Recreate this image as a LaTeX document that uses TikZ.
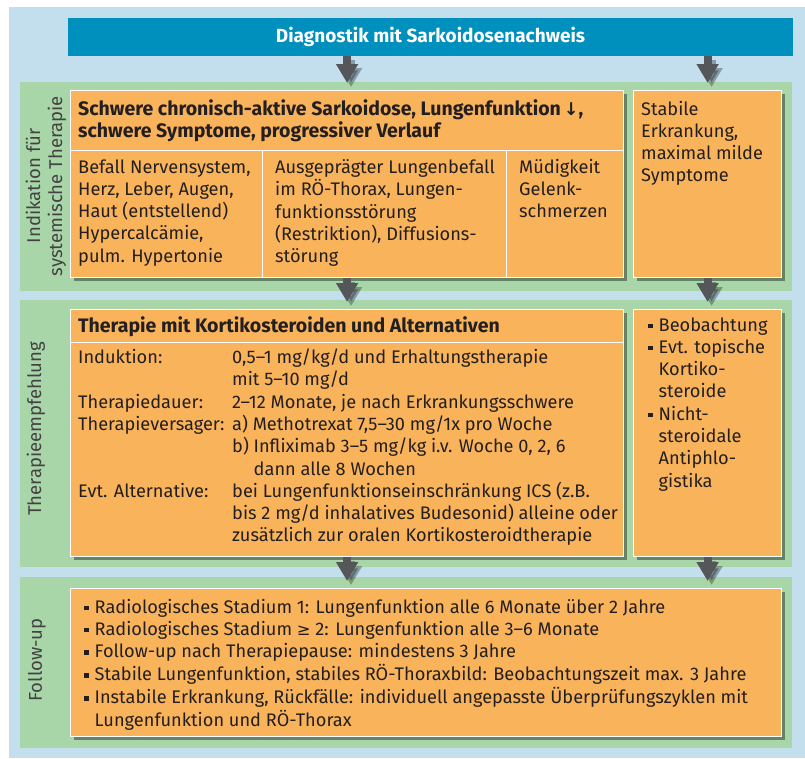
\documentclass[tikz,border=0pt]{standalone}
\usepackage{fontspec}
\setmainfont{Fira Sans}
\newfontfamily\symfont[Scale=0.9]{DejaVu Sans}
\usetikzlibrary{positioning,arrows.meta,shadows}

\definecolor{bgblue}{HTML}{C3DFEE}
\definecolor{bandgreen}{HTML}{A8D6A9}
\definecolor{boxorange}{HTML}{F9B35B}
\definecolor{titleblue}{HTML}{0090BE}
\definecolor{arrgray}{HTML}{555659}
\definecolor{txtdark}{HTML}{231F20}

\newcommand{\txt}{\fontsize{18.2}{22.3}\selectfont}
\newcommand{\txtbf}{\fontsize{19.5}{22.3}\selectfont\bfseries}
\newcommand{\sq}{\raisebox{3pt}{\rule{4.5pt}{4.5pt}}}
\newcommand{\lines}[1]{\begin{tabular}[t]{@{}l@{}}#1\end{tabular}}
\newcommand{\items}[1]{\begin{tabular}[t]{@{}l@{\hspace{6pt}}l@{}}#1\end{tabular}}

\tikzset{
  box/.style={draw=white, line width=1.2pt, fill=boxorange, anchor=north west,
    inner sep=0pt, drop shadow={shadow xshift=3pt, shadow yshift=-3pt,
    fill=black!60!bandgreen, opacity=.65}},
  cell/.style={draw=white, line width=1.2pt, fill=boxorange, anchor=north west, inner sep=0pt},
  txt/.style={anchor=base west, inner sep=0pt, text=txtdark, font=\txt},
  side/.style={rotate=90, align=center, inner sep=0pt, text=txtdark!85,
    font=\fontsize{18.5}{22}\selectfont},
  arr/.style={line width=8pt, draw=arrgray, shorten >=7pt,
    -{Triangle[width=21pt,length=19pt]}},
}

\begin{document}
\begin{tikzpicture}[x=1pt,y=-1pt]
\useasboundingbox (0,0) rectangle (805,758);
\fill[bgblue] (9,7) rectangle (805,758);
\fill[bandgreen] (20,82) rectangle (792,291);
\fill[bandgreen] (20,300) rectangle (792,567);
\fill[bandgreen] (20,577) rectangle (792,748);

\node[fill=titleblue, text=white, font=\fontsize{19}{20}\selectfont\bfseries,
  minimum width=725pt, minimum height=38pt, inner sep=0pt] (diag) at (430.5,37)
  {Diagnostik mit Sarkoidosenachweis};

% Indikation fuer systemische Therapie
\node[box, minimum width=553pt, minimum height=187pt] (ind) at (70,90) {};
\node[cell, minimum width=553pt, minimum height=60pt] (indhead) at (70,90) {};
\node[cell, minimum width=192pt, minimum height=127pt] (indA) at (70,150) {};
\node[cell, minimum width=244pt, minimum height=127pt] (indB) at (262,150) {};
\node[cell, minimum width=117pt, minimum height=127pt] (indC) at (506,150) {};
\node[box, minimum width=148pt, minimum height=187pt] (stab) at (633,90) {};

\node[txt, font=\txtbf] (tHead) at (78,115)
  {\lines{Schwere chronisch-aktive Sarkoidose, Lungenfunktion{\symfont\,↓},\\
   schwere Symptome, progressiver Verlauf}};
\node[txt] (tA) at (78,173) {\lines{Befall Nervensystem,\\Herz, Leber, Augen,\\
  Haut (entstellend)\\Hypercalcämie,\\pulm. Hypertonie}};
\node[txt] (tB) at (275,173) {\lines{Ausgeprägter Lungenbefall\\im RÖ-Thorax, Lungen-\\
  funktionsstörung\\(Restriktion), Diffusions-\\störung}};
\node[txt] (tC) at (519,173) {\lines{Müdigkeit\\Gelenk-\\schmerzen}};
\node[txt] (tStab) at (641,115) {\lines{Stabile\\Erkrankung,\\maximal milde\\Symptome}};

% Therapieempfehlung
\node[box, minimum width=553pt, minimum height=247pt] (ther) at (70,309) {};
\node[cell, minimum width=553pt, minimum height=33pt] (therhead) at (70,309) {};
\node[box, minimum width=148pt, minimum height=247pt] (rec) at (633,309) {};

\node[txt, font=\txtbf] (tTherHead) at (78,332)
  {Therapie mit Kortikosteroiden und Alternativen};
\node[txt] (tTher) at (78,363.5) {\begin{tabular}[t]{@{}p{154pt}@{}l@{}}
  Induktion: & 0,5–1 mg/kg/d und Erhaltungstherapie\\
   & mit 5–10 mg/d\\
  Therapiedauer: & 2–12 Monate, je nach Erkrankungsschwere\\
  Therapieversager: & a) Methotrexat 7,5–30 mg/1x pro Woche\\
   & b) Infliximab 3–5 mg/kg i.v. Woche 0, 2, 6\\
   & \phantom{b) }dann alle 8 Wochen\\
  Evt. Alternative: & bei Lungenfunktionseinschränkung ICS (z.B.\\
   & bis 2 mg/d inhalatives Budesonid) alleine oder\\
   & zusätzlich zur oralen Kortikosteroidtherapie
  \end{tabular}};
\node[txt] (tRec) at (648,331) {\items{\sq & Beobachtung\\ \sq & Evt. topische\\
  & Kortiko-\\ & steroide\\ \sq & Nicht-\\ & steroidale\\ & Antiphlo-\\ & gistika}};

% Follow-up
\node[box, minimum width=711pt, minimum height=148pt] (fol) at (70,588) {};
\node[txt] (tFol) at (84,613) {\items{
  \sq & Radiologisches Stadium 1: Lungenfunktion alle 6 Monate über 2 Jahre\\
  \sq & Radiologisches Stadium {\symfont≥} 2: Lungenfunktion alle 3–6 Monate\\
  \sq & Follow-up nach Therapiepause: mindestens 3 Jahre\\
  \sq & Stabile Lungenfunktion, stabiles RÖ-Thoraxbild: Beobachtungszeit max. 3 Jahre\\
  \sq & Instabile Erkrankung, Rückfälle: individuell angepasste Überprüfungszyklen mit\\
   & Lungenfunktion und RÖ-Thorax}};

% Seitenbeschriftung
\node[side] (sInd) at (46,186) {Indikation für\\systemische Therapie};
\node[side] (sTher) at (36,429) {Therapieempfehlung};
\node[side] (sFol) at (37,660) {Follow-up};

% Pfeile
\coordinate (d1) at (diag.south -| ind.north);
\coordinate (d2) at (diag.south -| stab.north);
\coordinate (f1) at (fol.north -| ther.south);
\coordinate (f2) at (fol.north -| rec.south);
\foreach \a/\b in {d1/ind.north, d2/stab.north, ind.south/ther.north,
                   stab.south/rec.north, ther.south/f1, rec.south/f2} {
  \draw[arr, draw=black, opacity=.3, transform canvas={shift={(4pt,-4pt)}}] (\a) -- (\b);
  \draw[arr] (\a) -- (\b);
}
\end{tikzpicture}
\end{document}
